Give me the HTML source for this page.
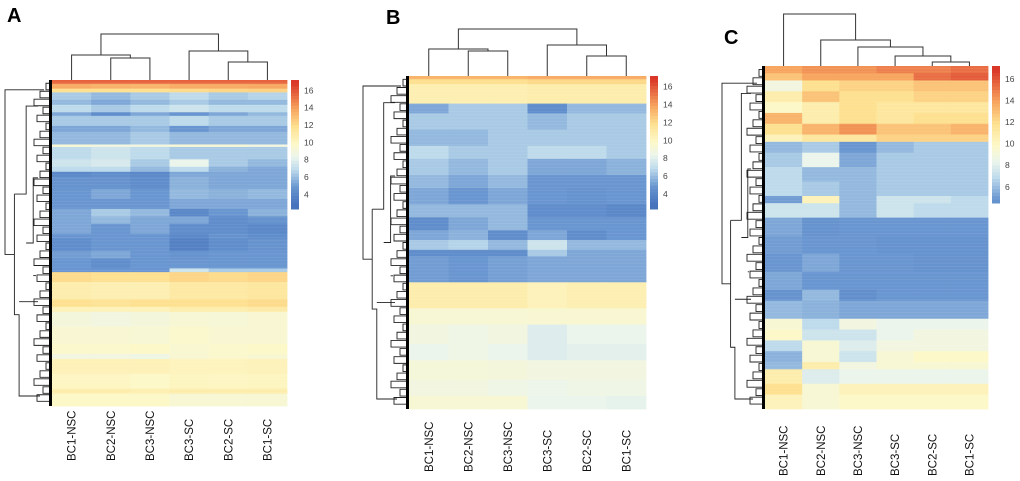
<!DOCTYPE html>
<html><head><meta charset="utf-8"><style>
body{margin:0;background:#fff;}
svg{display:block;font-family:"Liberation Sans",sans-serif;}
</style></head><body>
<svg id="fig" width="1020" height="481" viewBox="0 0 1020 481"></svg>
<script>
const samples = ["BC1-NSC","BC2-NSC","BC3-NSC","BC3-SC","BC2-SC","BC1-SC"];
const legendTicksA = [4,6,8,10,12,14,16];
const legendTicksC = [6,8,10,12,14,16];
// row blocks: [relative height, 6 sample values]
const rowsA = [
[3,15.8,15.8,15.8,15.8,15.8,15.8],[4,13.8,13.6,13.5,13.8,13.8,13.9],[3,12,12,12,12.2,12.4,12.5],
[6,6.5,6,6.5,7,6.5,6.8],[4,6,5.5,6,6.5,6,6],[6,7,6.5,7,7.5,7,7],[3,5.5,4.5,5.5,5,5.5,6],
[8,6.5,6.5,6.5,7,6.5,6.5],[5,5.5,5.5,6,5,5.5,5.5],[10,6,6,6.5,6,6,6],[2,9.5,9,9,9.5,9.5,9],
[10,7,7.5,7,6.5,6.5,6.5],[6,7.5,7.8,6.5,8.5,6.5,6],[4,7,7,6,7,5.8,5.5],
[4,4.2,4.5,4.2,5.5,5.5,5.5],[10,4.8,4.8,4.5,5.8,5.5,5.5],[8,5,5.5,5,6,5.8,6],[8,5,5,5,5.5,5.5,5.5],
[6,5.5,6.5,6,4.2,5,5.8],[6,5.5,6,5.5,5.5,4.5,4.8],[8,5.5,5,5.5,4.5,4.5,4.2],[4,5,5,5,4.2,4.8,4.5],
[10,4.5,5,5,3.8,4.5,4.8],[6,5.2,5.5,5,4.8,5,5],[8,5,4.5,5,5,5,5],[3,5,5,5,7.5,6.5,6.5],
[8,12.2,12,12,12.4,12.2,12.4],[14,11,10.8,10.8,11.3,11.3,11.5],[6,12,11.8,12,12,12,12.2],[4,10.5,10.5,10.5,11,11,11.2],
[12,9.2,9,9.2,9.5,9.4,9.6],[14,9.6,9.6,9.5,9.8,9.6,9.6],[8,9.8,9.8,10,9.6,9.8,10],[4,9,9,8.8,9.6,9.8,9.6],
[12,10.6,10.6,10.6,10.4,10.4,10.5],[12,10.2,10.2,10,10.3,10.2,10.3],[4,11,11,10.8,11,11,11],[10,10,10,10,9.5,9.5,9.5]
];
const rowsB = [
[2,13.5,13.5,13.5,13.8,13.8,13.8],[3,12,12,12,12.3,12.3,12.3],[12,10.8,10.8,10.8,11,11,11],
[6,5.5,6.5,6.5,4.5,6,6],[10,6.5,6.5,6.5,6,6.5,6.5],[10,6,6,6.5,6.5,6.5,6.5],[8,7,6.5,6.5,7,7,6.5],
[10,6.5,6,6.5,5.5,5.5,5.8],[8,6,5.5,6,5,5,5],[10,5.5,5,5.5,5,4.8,5],[8,6,6,6,4.5,4.5,4.2],
[8,4.5,5.5,6,5,5,5],[6,5.5,5.8,4.5,5.5,4.5,5],[6,6.5,6.8,6,7.5,6,6],[4,4.5,4.5,4.5,6.5,5.5,5.5],
[16,5.2,5,5.3,5.5,5.5,5.5],
[16,11,11,11,10.5,10.8,10.8],[10,9.5,9.5,9.5,9.6,9.6,9.6],[12,9,8.8,9,8,8.5,8.5],
[10,8.5,8.8,8.5,8,8.2,8.2],[12,9.3,9.3,9.2,9,9,9],[10,9,9,8.8,8.6,8.8,8.8],[8,9.5,9.5,9.5,8.5,8.5,8.3]
];
const rowsC = [
[4,14,14.5,14.5,15,15,15.5],[4,13,14,14,14,15.5,16],[6,9,12,12.5,12.5,13,13],[6,11,13,12,12,12.5,12.5],
[6,10,11,12,11.5,11.5,11.5],[6,13.5,11,12,11.5,12,12],[6,12,13.5,14.5,13,13,13.5],[4,10.5,11.5,11.5,12.5,12.5,12.5],
[6,6,6.5,5,6,6.5,6.5],[8,6.5,8.5,5.5,6.5,6.5,6.5],[8,7,6,6,6.5,6.5,6.5],[8,7,6.5,6,6.5,6.5,6.5],
[4,5.2,10.5,6,7.5,7.5,7],[8,7.5,7.5,6,7.5,7,7],
[10,5.5,4.8,5,5,5,5],[10,5.2,5,5,4.8,4.8,4.8],[10,5,5.5,5,5,4.8,4.8],[10,5.5,5,5,5,5,5],
[6,4.8,6,4.6,5,5,5],[10,6,5.8,5.5,5.5,5.5,5.5],
[6,9.5,7,9,8.5,8.5,8.5],[6,10,7.5,7.5,8.5,9,9],[6,7,9.5,8,9,9,9],[6,5.8,9.5,7.5,9.5,10,10],[4,6,11,9,9.5,9.5,9.5],
[8,11,8,8.5,8.5,8.5,8.5],[6,12,9.5,10.5,10.5,10.5,10.5],[8,10.5,9.5,10,10,10,10]
];
// column dendrogram merges: [leftNode, rightNode, heightY]
const mergesA = [[1,2,58],[4,5,62],[0,6,55],[3,7,51],[8,9,34]];
const mergesB = [[1,2,51],[4,5,56],[0,6,49],[3,7,45],[8,9,29]];
const mergesC = [[4,5,62],[3,6,56],[2,7,47],[1,8,40],[0,9,14]];

const NS="http://www.w3.org/2000/svg";
const svg=document.getElementById('fig');
function mk(tag,attrs,parent){const e=document.createElementNS(NS,tag);for(const k in attrs)e.setAttribute(k,attrs[k]);(parent||svg).appendChild(e);return e;}
const stops=[[3,[70,115,188]],[5,[105,150,208]],[7,[190,219,236]],[8.5,[236,245,236]],[10,[253,248,200]],[12,[253,225,145]],[14,[247,165,95]],[17,[218,55,40]]];
function col(v){if(v<=stops[0][0])return 'rgb('+stops[0][1]+')';for(let i=1;i<stops.length;i++){if(v<=stops[i][0]){const a=stops[i-1],b=stops[i],t=(v-a[0])/(b[0]-a[0]);return 'rgb('+a[1].map((c,j)=>Math.round(c+(b[1][j]-c)*t)).join(',')+')';}}return 'rgb('+stops[stops.length-1][1]+')';}

function panel(p){
  const g=mk('g',{});
  
  
  const L=mk('text',{x:p.lx,y:p.ly,'font-size':20,'font-weight':'bold',fill:'#000'},g);
  L.textContent=p.id;
  
  
  const cw=(p.x1-p.x0)/6;
  const total=p.rows.reduce((s,r)=>s+r[0],0);
  const H=p.y1-p.y0;
  const xS=i=>p.x0+cw*i;
  const yS=h=>p.y0+h/total*H;
  let acc=0;
  const hg=mk('g',{},g);
  
  
  p.rows.forEach(r=>{
    const ya=yS(acc),yb=yS(acc+r[0]);
    for(let c=0;c<6;c++){
      const rc=mk('rect',{x:xS(c),y:ya,width:cw+0.4,height:yb-ya+0.4,fill:col(r[c+1])},hg);
      
      
    }
    acc+=r[0];
  });
  // thin row stripes for texture
  const sg=mk('g',{},g);
  for(let y=p.y0+2;y<p.y1-1;y+=3.3){
    mk('rect',{x:p.x0,y:y,width:p.x1-p.x0,height:0.8,fill:'#fff','fill-opacity':0.08},sg);
  }
  // column dendrogram
  const nodes=[];for(let i=0;i<6;i++)nodes.push([xS(i+0.5),p.y0]);
  const dg=mk('g',{stroke:'#333','stroke-width':1,fill:'none'},g);
  
  
  p.merges.forEach(m=>{
    const a=nodes[m[0]],b=nodes[m[1]],h=m[2];
    mk('path',{d:`M${a[0]},${a[1]}V${h}H${b[0]}V${b[1]}`},dg);
    nodes.push([(a[0]+b[0])/2,h]);
  });
  // row dendrogram (schematic)
  const rg=mk('g',{stroke:'#222','stroke-width':0.9,fill:'none'},g);
  
  
  const w=p.x0-p.dx;
  const yTop=p.y0+H*p.split[0], yMid=p.y0+H*p.split[1], yBot=p.y0+H*p.split[2];
  mk('path',{d:`M${p.x0-8},${yTop}H${p.dx}V${(yMid+yBot)/2}H${p.dx+w*0.2}`},rg);
  mk('path',{d:`M${p.dx+w*0.2},${yMid}V${yBot}H${p.dx+w*0.3}V${p.y1-10}H${p.x0-12}`},rg);
  mk('path',{d:`M${p.dx+w*0.3},${p.y0+H*0.68}H${p.x0-14}`},rg);
  mk('path',{d:`M${p.dx+w*0.2},${yMid}H${p.dx+w*0.45}V${p.y0+H*0.08}H${p.x0-14}`},rg);
  mk('path',{d:`M${p.dx+w*0.45},${p.y0+H*0.5}H${p.dx+w*0.6}V${p.y0+H*0.3}H${p.x0-14}`},rg);
  mk('path',{d:`M${p.dx+w*0.6},${p.y0+H*0.6}H${p.x0-16}`},rg);
  for(let k=0;k<40;k++){
    const yy=p.y0+H*(0.01+k*0.0245);
    const ww=6+((k*7)%5)*3;
    mk('path',{d:`M${p.x0-2},${yy}H${p.x0-ww}V${yy+H*0.02}H${p.x0-2}`},rg);
  }
  mk('rect',{x:p.x0-3,y:p.y0,width:3,height:H,fill:'#000',stroke:'none'},rg);
  // colour bar
  const cb=mk('g',{},g);
  
  
  const n=40;
  for(let i=0;i<n;i++){
    const v=p.cmax-(p.cmax-p.cmin)*i/n;
    mk('rect',{x:p.x1+4,y:p.y0+(p.cb)*i/n,width:8,height:p.cb/n+0.5,fill:col(v)},cb);
  }
  p.ticks.forEach(t=>{
    const y=p.y0+(p.cmax-t)/(p.cmax-p.cmin)*p.cb;
    const tx=mk('text',{x:p.x1+17,y:y+3,'font-size':8.5,fill:'#444'},cb);
    tx.textContent=t;
    
    
  });
  samples.forEach((s,i)=>{
    const x=xS(i+0.5)+4;
    const tx=mk('text',{x:x,y:p.labY,'font-size':11.5,fill:'#111',transform:`rotate(-90 ${x} ${p.labY})`},g);
    tx.textContent=s;
    
    
  });
}
panel({id:'A',lx:7,ly:22,x0:52,x1:287,y0:80,y1:406,rows:rowsA,merges:mergesA,dx:5,split:[0.03,0.35,0.72],cb:129,cmin:2.3,cmax:17.2,ticks:legendTicksA,labY:461});
panel({id:'B',lx:386,ly:24,x0:409,x1:646,y0:76,y1:409,rows:rowsB,merges:mergesB,dx:363,split:[0.03,0.4,0.7],cb:133,cmin:2.3,cmax:17.2,ticks:legendTicksA,labY:472});
panel({id:'C',lx:724,ly:44,x0:765,x1:988,y0:66,y1:409,rows:rowsC,merges:mergesC,dx:722,split:[0.05,0.45,0.82],cb:137,cmin:4.5,cmax:17.2,ticks:legendTicksC,labY:476});
</script>
</body></html>
